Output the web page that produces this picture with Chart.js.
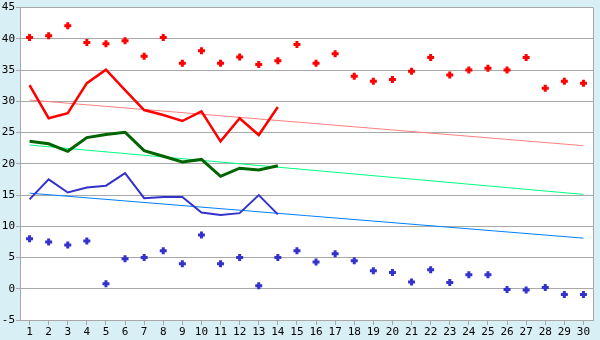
<!DOCTYPE html>
<html>
<head>
<meta charset="utf-8">
<script src="https://cdn.jsdelivr.net/npm/chart.js@4"></script>
<style>
  html, body { margin: 0; padding: 0; background: #d9eff6; }
  #wrap { width: 600px; height: 340px; }
</style>
</head>
<body>
<div id="wrap"><canvas id="chart"></canvas></div>
<script>
// Categories (days)
const days = ['1','2','3','4','5','6','7','8','9','10','11','12','13','14','15',
              '16','17','18','19','20','21','22','23','24','25','26','27','28','29','30'];

// Scatter points
const highPoints = [40.2, 40.5, 42.1, 39.4, 39.2, 39.7, 37.2, 40.2, 36.1, 38.1,
                    36.1, 37.1, 35.9, 36.5, 39.1, 36.1, 37.6, 34.0, 33.2, 33.5,
                    34.8, 37.0, 34.2, 35.0, 35.3, 35.0, 37.0, 32.1, 33.2, 32.9];
const lowPoints = [8.0, 7.5, 7.0, 7.65, 0.8, 4.8, 5.0, 6.1, 4.0, 8.6,
                   4.0, 5.0, 0.5, 5.0, 6.1, 4.3, 5.6, 4.5, 2.9, 2.6,
                   1.1, 3.05, 1.0, 2.25, 2.25, -0.1, -0.2, 0.2, -0.9, -0.9];

// Lines (first 14 days)
const redLine = [32.6, 27.3, 28.1, 32.9, 35.05, 31.8, 28.6, 27.8, 26.85, 28.4, 23.6, 27.3, 24.6, 29.1];
const greenLine = [23.6, 23.2, 22.0, 24.2, 24.7, 25.05, 22.1, 21.2, 20.3, 20.7, 18.0, 19.3, 19.0, 19.7];
const blueLine = [14.3, 17.5, 15.4, 16.2, 16.5, 18.5, 14.5, 14.7, 14.7, 12.2, 11.8, 12.1, 15.0, 11.9];

// Trend lines (start and end values)
const trendEnds = ['1', '30'];
const redTrend = [30.2, 22.9];
const greenTrend = [23.0, 15.1];
const blueTrend = [15.3, 8.1];

function trendData(values) {
    return trendEnds.map((d, i) => ({ x: d, y: values[i] }));
}

// White plot area with a grey frame
const plotFrame = {
    id: 'plotFrame',
    beforeDraw(chart) {
        const { ctx, chartArea: a } = chart;
        ctx.save();
        ctx.fillStyle = '#ffffff';
        ctx.fillRect(a.left, a.top, a.right - a.left, a.bottom - a.top);
        ctx.restore();
    },
    afterDraw(chart) {
        const { ctx, chartArea: a } = chart;
        ctx.save();
        ctx.strokeStyle = '#a8a8a8';
        ctx.lineWidth = 1;
        ctx.beginPath();
        ctx.moveTo(a.right + 0.5, a.top);
        ctx.lineTo(a.right + 0.5, a.bottom);
        ctx.stroke();
        ctx.restore();
    }
};

const font = { family: 'DejaVu Sans Mono', size: 11 };

new Chart(document.getElementById('chart'), {
    type: 'line',
    data: {
        labels: days,
        datasets: [
            { data: redLine, borderColor: '#ff0000', borderWidth: 2.5, pointRadius: 0, tension: 0 },
            { data: greenLine, borderColor: '#006400', borderWidth: 3, pointRadius: 0, tension: 0 },
            { data: blueLine, borderColor: '#3333cc', borderWidth: 2, pointRadius: 0, tension: 0 },
            { data: trendData(redTrend), borderColor: '#ff8080', borderWidth: 1, pointRadius: 0 },
            { data: trendData(greenTrend), borderColor: '#00ff80', borderWidth: 1, pointRadius: 0 },
            { data: trendData(blueTrend), borderColor: '#0080ff', borderWidth: 1, pointRadius: 0 },
            { data: highPoints, showLine: false, pointStyle: 'cross', pointRadius: 3.5,
              backgroundColor: '#ff0000', borderColor: '#ff0000', pointBorderWidth: 3 },
            { data: lowPoints, showLine: false, pointStyle: 'cross', pointRadius: 3.5,
              backgroundColor: '#3333cc', borderColor: '#3333cc', pointBorderWidth: 3 }
        ]
    },
    options: {
        responsive: true,
        maintainAspectRatio: false,
        animation: false,
        layout: { padding: { top: 5, right: 5, left: 0, bottom: 0 } },
        plugins: { legend: { display: false }, tooltip: { enabled: false } },
        scales: {
            x: {
                offset: true,
                grid: { drawOnChartArea: false, drawTicks: true, tickLength: 5, color: '#a8a8a8', offset: false },
                border: { color: '#a8a8a8' },
                ticks: { color: '#000', font: font, padding: 1, maxRotation: 0, autoSkip: false },
                afterFit(scale) { scale.height = 20; }
            },
            y: {
                min: -5,
                max: 45,
                grid: { color: '#a8a8a8', tickLength: 4 },
                border: { color: '#a8a8a8' },
                ticks: { stepSize: 5, color: '#000', font: font, padding: 1 },
                afterFit(scale) { scale.width = 20; }
            }
        }
    },
    plugins: [plotFrame]
});
</script>
</body>
</html>
